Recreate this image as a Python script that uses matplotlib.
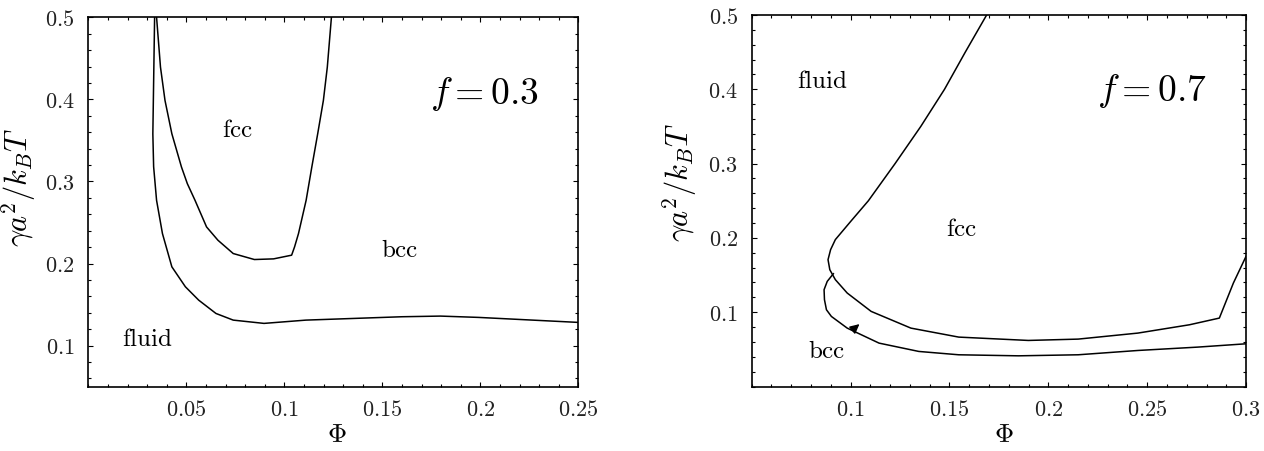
import matplotlib
matplotlib.use("Agg")
import matplotlib.pyplot as plt
from matplotlib.ticker import MultipleLocator, FuncFormatter

plt.rcParams['mathtext.fontset'] = 'cm'
plt.rcParams['font.family'] = ['DejaVu Serif']

# ---- Left panel (f = 0.3) ----
left_fluid_bcc_phi = [0.0338, 0.0329, 0.0333, 0.0348, 0.0378, 0.0426, 0.0495, 0.0563,
                      0.0651, 0.0739, 0.0896, 0.111, 0.160, 0.1796, 0.199, 0.25]
left_fluid_bcc_gam = [0.5, 0.358, 0.318, 0.277, 0.2365, 0.196, 0.1717, 0.1554,
                      0.1392, 0.1311, 0.1271, 0.1311, 0.1352, 0.136, 0.1344, 0.1283]

left_fcc_phi = [0.0348, 0.0368, 0.0391, 0.0426, 0.0475, 0.0505, 0.0544, 0.0603, 0.0661,
                0.0739, 0.0847, 0.0945, 0.1037, 0.1052, 0.1072, 0.1111, 0.1140, 0.1170,
                0.1199, 0.1219, 0.1240]
left_fcc_gam = [0.5, 0.4392, 0.3987, 0.3581, 0.3176, 0.2973, 0.2771, 0.2446, 0.2284,
                0.2122, 0.2049, 0.2057, 0.2102, 0.2203, 0.2365, 0.2771, 0.3176, 0.3581,
                0.3987, 0.4392, 0.5]

# ---- Right panel (f = 0.7) ----
right_outer_phi = [0.1688, 0.158, 0.1475, 0.1355, 0.1225, 0.109, 0.1000, 0.0923, 0.0899,
                   0.0886, 0.0895, 0.0923, 0.0983, 0.1104, 0.1305, 0.1547, 0.1899, 0.2151,
                   0.2453, 0.2714, 0.2865, 0.2936, 0.3]
right_outer_gam = [0.5, 0.45, 0.40, 0.35, 0.30, 0.25, 0.222, 0.1977, 0.1842, 0.1707,
                   0.1572, 0.1438, 0.1258, 0.1011, 0.0786, 0.0665, 0.0620, 0.0638, 0.0719,
                   0.0831, 0.0921, 0.1393, 0.1752]

right_bcc_phi = [0.0913, 0.0882, 0.0866, 0.0868, 0.0878, 0.0903, 0.0983, 0.1144, 0.1345,
                 0.1547, 0.1849, 0.2151, 0.2453, 0.2754, 0.3]
right_bcc_gam = [0.1518, 0.1415, 0.1303, 0.1168, 0.1033, 0.0943, 0.0786, 0.0584, 0.0472,
                 0.0427, 0.0413, 0.0427, 0.0485, 0.0530, 0.0575]

fig = plt.figure(figsize=(12.64, 4.51), dpi=100)
axL = fig.add_axes([0.0699, 0.1426, 0.3877, 0.8191])
axR = fig.add_axes([0.5947, 0.1430, 0.3911, 0.8237])

def fmt(v, pos):
    s = ('%.2f' % v).rstrip('0').rstrip('.')
    return r'$%s$' % s

for ax in (axL, axR):
    ax.xaxis.set_major_locator(MultipleLocator(0.05))
    ax.xaxis.set_minor_locator(MultipleLocator(0.01))
    ax.yaxis.set_major_locator(MultipleLocator(0.1))
    ax.yaxis.set_minor_locator(MultipleLocator(0.02))
    ax.xaxis.set_major_formatter(FuncFormatter(fmt))
    ax.yaxis.set_major_formatter(FuncFormatter(fmt))
    ax.tick_params(which='both', direction='in', top=True, right=True, width=0.8)
    ax.tick_params(which='major', length=3.8, labelsize=16, labelcolor='#222222')
    ax.tick_params(axis='x', which='major', pad=9)
    ax.tick_params(axis='y', which='major', pad=10)
    ax.tick_params(which='minor', length=2.0)
    for sp in ax.spines.values():
        sp.set_linewidth(1.2)
    ax.set_xlabel(r'$\Phi$', fontsize=19)
    ax.set_ylabel(r'$\gamma a^2/k_BT$', fontsize=22)

lw = 1.1
axL.plot(left_fluid_bcc_phi, left_fluid_bcc_gam, color='black', lw=lw)
axL.plot(left_fcc_phi, left_fcc_gam, color='black', lw=lw)
axL.set_xlim(0, 0.25)
axL.set_ylim(0.05, 0.5)
axL.set_xticks([0.05, 0.1, 0.15, 0.2, 0.25])
axL.set_yticks([0.1, 0.2, 0.3, 0.4, 0.5])
axL.text(0.0763, 0.362, r'$\mathrm{fcc}$', fontsize=18, ha='center', va='center')
axL.text(0.159, 0.216, r'$\mathrm{bcc}$', fontsize=18, ha='center', va='center')
axL.text(0.0299, 0.107, r'$\mathrm{fluid}$', fontsize=18, ha='center', va='center')
axL.text(0.202, 0.407, r'$f=0.3$', fontsize=27, ha='center', va='center')
axL.xaxis.set_label_coords(0.507, -0.095)
axL.yaxis.set_label_coords(-0.103, 0.541)

axR.plot(right_outer_phi, right_outer_gam, color='black', lw=lw)
axR.plot(right_bcc_phi, right_bcc_gam, color='black', lw=lw)
axR.set_xlim(0.05, 0.3)
axR.set_ylim(0.0, 0.5)
axR.set_xticks([0.1, 0.15, 0.2, 0.25, 0.3])
axR.set_yticks([0.1, 0.2, 0.3, 0.4, 0.5])
axR.text(0.0858, 0.411, r'$\mathrm{fluid}$', fontsize=18, ha='center', va='center')
axR.text(0.1563, 0.2111, r'$\mathrm{fcc}$', fontsize=18, ha='center', va='center')
axR.text(0.2523, 0.3976, r'$f=0.7$', fontsize=27, ha='center', va='center')
axR.annotate(r'$\mathrm{bcc}$', xy=(0.1045, 0.0840), xytext=(0.0879, 0.0468),
             fontsize=18, ha='center', va='center',
             arrowprops=dict(arrowstyle='-|>', color='black', lw=1.0,
                             mutation_scale=14, shrinkA=10, shrinkB=0))
axR.xaxis.set_label_coords(0.51, -0.095)
axR.yaxis.set_label_coords(-0.106, 0.551)

fig.savefig('out.png', dpi=100)
